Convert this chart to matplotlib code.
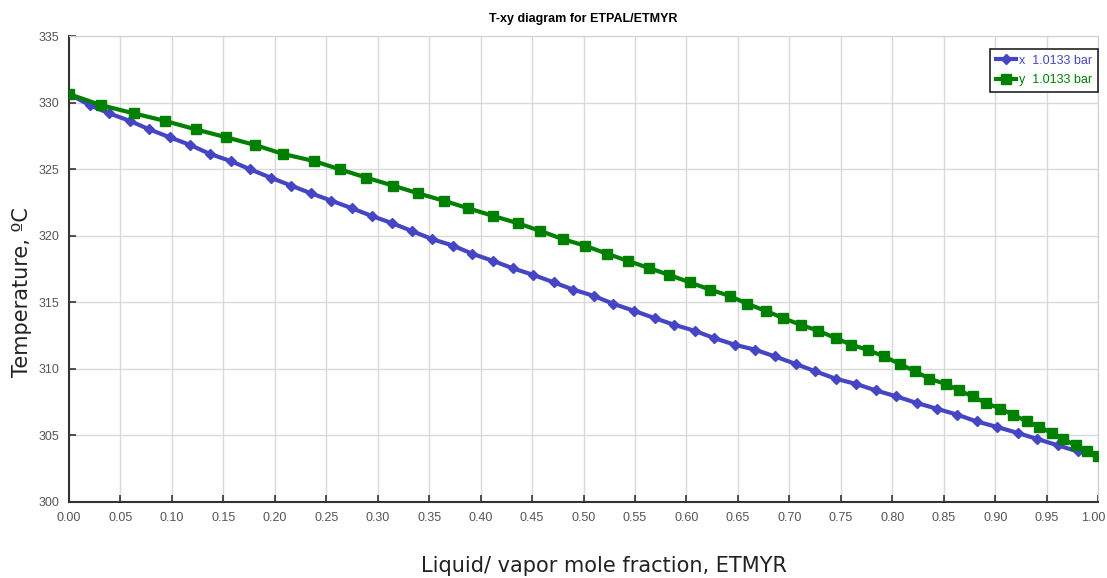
import numpy as np
import matplotlib
matplotlib.use("Agg")
import matplotlib.pyplot as plt
import matplotlib.transforms as transforms

# T-xy data (52 points, shared temperatures)
temp = [330.64, 329.81, 329.19, 328.63, 327.99, 327.39, 326.81, 326.14, 325.61, 324.99,
        324.36, 323.76, 323.19, 322.63, 322.06, 321.49, 320.94, 320.36, 319.74, 319.26,
        318.64, 318.11, 317.56, 317.06, 316.50, 315.95, 315.48, 314.88, 314.36, 313.81,
        313.31, 312.86, 312.31, 311.81, 311.43, 310.93, 310.37, 309.82, 309.26, 308.86,
        308.38, 307.93, 307.43, 307.01, 306.56, 306.05, 305.63, 305.18, 304.73, 304.25,
        303.80, 303.43]

x_liq = [0.000, 0.020, 0.039, 0.059, 0.078, 0.098, 0.118, 0.137, 0.157, 0.176,
         0.196, 0.216, 0.235, 0.255, 0.275, 0.294, 0.314, 0.333, 0.353, 0.373,
         0.392, 0.412, 0.431, 0.451, 0.471, 0.490, 0.510, 0.529, 0.549, 0.569,
         0.588, 0.608, 0.627, 0.647, 0.667, 0.686, 0.706, 0.725, 0.745, 0.765,
         0.784, 0.804, 0.824, 0.843, 0.863, 0.882, 0.902, 0.922, 0.941, 0.961,
         0.980, 1.000]

y_vap = [0.000, 0.031, 0.063, 0.093, 0.123, 0.153, 0.181, 0.208, 0.238, 0.263,
         0.289, 0.315, 0.339, 0.364, 0.388, 0.412, 0.436, 0.458, 0.480, 0.501,
         0.523, 0.543, 0.564, 0.583, 0.603, 0.623, 0.642, 0.659, 0.677, 0.694,
         0.711, 0.728, 0.745, 0.760, 0.776, 0.792, 0.807, 0.822, 0.836, 0.852,
         0.865, 0.878, 0.891, 0.905, 0.917, 0.931, 0.943, 0.955, 0.966, 0.978,
         0.989, 1.000]

x_ticks = [0.00, 0.05, 0.10, 0.15, 0.20, 0.25, 0.30, 0.35, 0.40, 0.45, 0.50,
           0.55, 0.60, 0.65, 0.70, 0.75, 0.80, 0.85, 0.90, 0.95, 1.00]
y_ticks = [300, 305, 310, 315, 320, 325, 330, 335]

narrow = "Liberation Sans"
blue = "#4646c4"
green = "#008000"

fig = plt.figure(figsize=(11.07, 5.78), dpi=100)
ax = fig.add_axes([0.0623, 0.1315, 0.9297, 0.8062])

ax.plot(x_liq, temp, color=blue, lw=3, marker="D", ms=5.5, mec=blue, mfc=blue,
        label="x  1.0133 bar", zorder=3)
ax.plot(y_vap, temp, color=green, lw=3, marker="s", ms=7, mec=green, mfc=green,
        label="y  1.0133 bar", zorder=4)

ax.set_xlim(0, 1)
ax.set_ylim(300, 335)
ax.set_xticks(x_ticks)
ax.set_xticklabels(["{:.2f}".format(v) for v in x_ticks])
ax.set_yticks(y_ticks)

ax.grid(True, color="#d9d9d9", lw=1)
ax.set_axisbelow(True)
ax.tick_params(direction="in", length=5, width=1.2, colors="#333333",
               labelcolor="#555555", labelsize=9, pad=7)
for lab in ax.get_xticklabels() + ax.get_yticklabels():
    lab.set_family(narrow)
# keep the last x label inside the figure
last = ax.get_xticklabels()[-1]
last.set_transform(last.get_transform() +
                   transforms.ScaledTranslation(-5 / 100, 0, fig.dpi_scale_trans))

ax.spines["left"].set_color("#333333")
ax.spines["bottom"].set_color("#333333")
ax.spines["left"].set_linewidth(1.5)
ax.spines["bottom"].set_linewidth(1.5)
ax.spines["top"].set_color("#d0d0d0")
ax.spines["right"].set_color("#d0d0d0")

ax.set_title("T-xy diagram for ETPAL/ETMYR", fontsize=9, fontweight="bold",
             family=narrow, pad=10)
ax.set_xlabel("Liquid/ vapor mole fraction, ETMYR", fontsize=15, color="#222222")
ax.xaxis.set_label_coords(0.52, -0.115)
ax.set_ylabel("Temperature, ºC", fontsize=15, color="#222222")
ax.yaxis.set_label_coords(-0.036, 0.45)

leg = ax.legend(loc="upper right", bbox_to_anchor=(1.0, 0.972),
                frameon=True, fancybox=False, handlelength=1.6, handletextpad=0.3,
                borderpad=0.45, labelspacing=0.6, borderaxespad=0.0,
                prop={"family": narrow, "size": 9})
leg.get_frame().set_edgecolor("#222222")
leg.get_frame().set_linewidth(1.2)
leg.get_frame().set_alpha(1)
for txt, c in zip(leg.get_texts(), [blue, green]):
    txt.set_color(c)

fig.savefig("out.png", dpi=100)
